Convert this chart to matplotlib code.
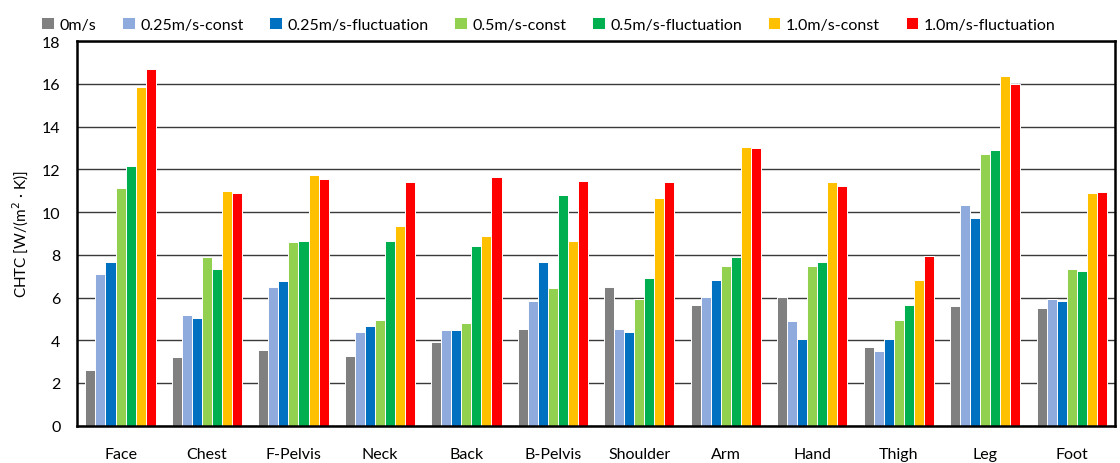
import matplotlib
matplotlib.use("Agg")
import matplotlib.pyplot as plt
import numpy as np

categories = ["Face", "Chest", "F-Pelvis", "Neck", "Back", "B-Pelvis", "Shoulder",
              "Arm", "Hand", "Thigh", "Leg", "Foot"]
series_names = ["0m/s", "0.25m/s-const", "0.25m/s-fluctuation", "0.5m/s-const",
                "0.5m/s-fluctuation", "1.0m/s-const", "1.0m/s-fluctuation"]
v_0 = [2.63, 3.20, 3.53, 3.25, 3.92, 4.51, 6.50, 5.64, 6.04, 3.70, 5.59, 5.51]
v_025c = [7.08, 5.18, 6.50, 4.37, 4.47, 5.83, 4.51, 6.04, 4.92, 3.48, 10.34, 5.95]
v_025f = [7.67, 5.06, 6.76, 4.66, 4.47, 7.67, 4.37, 6.81, 4.05, 4.05, 9.74, 5.83]
v_05c = [11.13, 7.90, 8.59, 4.95, 4.83, 6.45, 5.92, 7.48, 7.48, 4.95, 12.73, 7.35]
v_05f = [12.18, 7.32, 8.67, 8.67, 8.43, 10.79, 6.90, 7.90, 7.67, 5.64, 12.91, 7.23]
v_1c = [15.85, 11.01, 11.74, 9.34, 8.89, 8.67, 10.65, 13.04, 11.41, 6.81, 16.38, 10.88]
v_1f = [16.71, 10.88, 11.55, 11.41, 11.65, 11.46, 11.41, 13.00, 11.20, 7.95, 16.00, 10.93]
colors = ["#808080", "#8FAADC", "#0070C0", "#92D050", "#00B050", "#FFC000", "#FF0000"]
yticks = [0, 2, 4, 6, 8, 10, 12, 14, 16, 18]

series = [v_0, v_025c, v_025f, v_05c, v_05f, v_1c, v_1f]

plt.rcParams['font.family'] = ['Lato', 'DejaVu Sans']
fig = plt.figure(figsize=(11.2, 4.64), dpi=100)
ax = fig.add_axes([0.069, 0.0804, 0.9265, 0.8286])

x = np.arange(len(categories))
w = 0.116
for i, (vals, c, name) in enumerate(zip(series, colors, series_names)):
    ax.bar(x + (i - 3) * w, vals, width=w, color=c, edgecolor="white",
           linewidth=0.7, label=name, zorder=2)

ax.set_xlim(-0.5, len(categories) - 0.5)
ax.set_ylim(0, 18)
ax.set_yticks(yticks)
ax.set_xticks(x)
ax.set_xticklabels(categories)
ax.tick_params(axis="both", length=0, labelsize=11.5, colors="#000000")
ax.tick_params(axis="y", pad=12)
ax.tick_params(axis="x", pad=15)
ax.yaxis.grid(True, color="#3a3a3a", linewidth=1.0, zorder=0)
ax.set_axisbelow(True)
for s in ax.spines.values():
    s.set_color("black")
    s.set_linewidth(1.8)
    s.set_zorder(5)
ax.set_ylabel("CHTC [W/(m$^2$ · K)]", fontsize=11, labelpad=8)

ax.legend(loc="lower center", bbox_to_anchor=(0.454, 1.0), ncol=7, frameon=False,
          fontsize=11.5, handlelength=0.8, handleheight=0.8, handletextpad=0.35,
          columnspacing=1.6, borderaxespad=0.2)

fig.savefig("out.png", dpi=100)
